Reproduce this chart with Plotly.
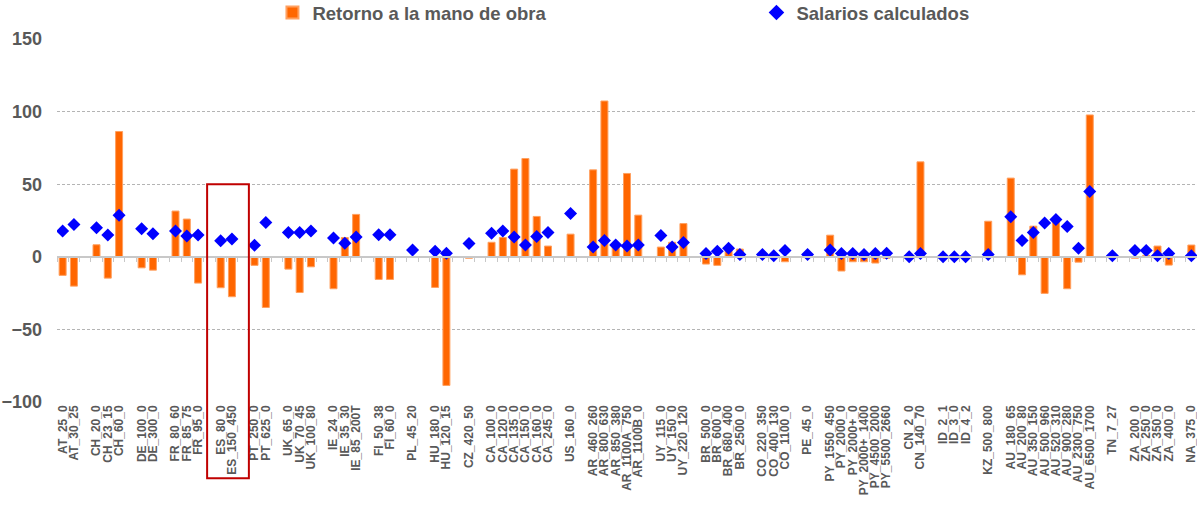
import plotly.graph_objects as go

# categories, "" marks an empty slot between country groups
categories = [
    "AT_25_0", "AT_30_25", "",
    "CH_20_0", "CH_23_15", "CH_60_0", "",
    "DE_100_0", "DE_300_0", "",
    "FR_80_60", "FR_85_75", "FR_95_0", "",
    "ES_80_0", "ES_150_450", "",
    "PT_250_0", "PT_625_0", "",
    "UK_65_0", "UK_70_45", "UK_100_80", "",
    "IE_24_0", "IE_35_30", "IE_85_200T", "",
    "FI_50_38", "FI_60_0", "",
    "PL_45_20", "",
    "HU_180_0", "HU_120_15", "",
    "CZ_420_50", "",
    "CA_100_0", "CA_120_0", "CA_135_0", "CA_150_0", "CA_160_0", "CA_245_0", "",
    "US_160_0", "",
    "AR_460_260", "AR_800_630", "AR_850_380", "AR_1100A_750", "AR_1100B_0", "",
    "UY_115_0", "UY_150_0", "UY_220_120", "",
    "BR_500_0", "BR_600_0", "BR_680_400", "BR_2500_0", "",
    "CO_220_350", "CO_400_130", "CO_1100_0", "",
    "PE_45_0", "",
    "PY_1550_450", "PY_2000_0", "PY_2000+_0", "PY_2000+_1400", "PY_4500_2000", "PY_5500_2660", "",
    "CN_2_0", "CN_140_70", "",
    "ID_2_1", "ID_3_0", "ID_4_2", "",
    "KZ_500_800", "",
    "AU_180_65", "AU_200_80", "AU_350_150", "AU_500_960", "AU_520_310", "AU_900_280",
    "AU_2300_750", "AU_6500_1700", "",
    "TN_7_27", "",
    "ZA_200_0", "ZA_250_0", "ZA_350_0", "ZA_400_0", "",
    "NA_375_0",
]

retorno = [
    -12.8, -20.2, None,
    8.3, -14.7, 86.3, None,
    -7.6, -9.2, None,
    31.5, 26.0, -18.1, None,
    -21.3, -27.5, None,
    -5.9, -34.9, None,
    -8.5, -24.6, -6.9, None,
    -22.0, 13.3, 29.2, None,
    -15.6, -15.6, None,
    -0.5, None,
    -21.1, -88.6, None,
    -1.0, None,
    10.0, 13.3, 60.4, 67.7, 27.8, 7.4, None,
    15.6, None,
    59.9, 107.3, 9.0, 57.4, 28.7, None,
    6.7, 10.0, 22.9, None,
    -5.0, -5.9, 4.6, 5.3, None,
    0.3, 0.3, -3.4, None,
    0.2, None,
    14.9, -9.8, -3.4, -3.4, -4.3, -1.0, None,
    0.0, 65.4, None,
    0.0, 0.0, 0.0, None,
    24.5, None,
    54.2, -12.4, 21.1, -25.2, 24.7, -22.0, -3.7, 97.7, None,
    0.0, None,
    -1.0, 1.0, 7.4, -5.7, None,
    8.1,
]

salarios = [
    17.7, 22.3, None,
    20.0, 15.0, 28.7, None,
    19.3, 15.9, None,
    17.7, 14.3, 15.0, None,
    11.0, 12.2, None,
    8.0, 23.6, None,
    16.8, 16.8, 17.7, None,
    12.9, 9.4, 13.6, None,
    15.2, 15.2, None,
    4.6, None,
    3.9, 2.5, None,
    9.2, None,
    16.3, 17.7, 13.6, 8.1, 14.0, 16.8, None,
    29.8, None,
    6.7, 11.3, 8.1, 7.4, 8.1, None,
    14.7, 6.7, 9.9, None,
    2.3, 3.9, 5.9, 1.6, None,
    1.6, 0.7, 4.4, None,
    1.6, None,
    4.6, 2.3, 2.3, 1.6, 2.3, 2.5, None,
    0.0, 2.3, None,
    0.0, 0.0, 0.0, None,
    1.6, None,
    27.5, 11.3, 16.8, 23.2, 25.7, 20.9, 5.9, 45.0, None,
    0.7, None,
    4.4, 4.4, 0.7, 2.3, None,
    0.7,
]

y_ticks = [-100, -50, 0, 50, 100, 150]

GRAY = "#595959"
FONT = "Liberation Sans, Arial, sans-serif"

pos = list(range(len(categories)))
n = len(categories)

fig = go.Figure()

fig.add_trace(go.Bar(
    x=pos, y=retorno, name="Retorno a la mano de obra",
    marker=dict(color="#FF6600", line=dict(color="#FFA060", width=1)),
    width=0.62,
))

fig.add_trace(go.Scatter(
    x=pos, y=salarios, name="Salarios calculados", mode="markers",
    marker=dict(symbol="diamond", color="#0000FF", size=10),
))

# dummy trace so the zero-line axis with boundary ticks gets drawn
fig.add_trace(go.Scatter(x=[0], y=[None], xaxis="x2", showlegend=False, hoverinfo="skip"))

label_pos = [i for i, c in enumerate(categories) if c]
label_txt = [c for c in categories if c]

fig.update_layout(
    width=1197, height=505,
    margin=dict(l=57, r=0, t=39, b=103, autoexpand=False),
    paper_bgcolor="white", plot_bgcolor="white",
    font=dict(family=FONT, color=GRAY),
    bargap=0.38,
    showlegend=True,
    legend=dict(
        orientation="h", x=0.189, y=1.124, xanchor="left", yanchor="top",
        entrywidth=439, font=dict(size=18.5, weight="bold", color=GRAY),
        bgcolor="rgba(0,0,0,0)", itemsizing="constant",
    ),
    xaxis=dict(
        range=[-0.5, n - 0.5], tickvals=label_pos, ticktext=label_txt,
        tickangle=-90, showgrid=False, zeroline=False, showline=False, ticks="",
        tickfont=dict(size=12, weight="bold", color=GRAY),
        ticklabeloverflow="allow",
    ),
    xaxis2=dict(
        overlaying="x", anchor="free", position=0.4, range=[-0.5, n - 0.5],
        tickvals=[i - 0.5 for i in range(n + 1)], ticks="outside", ticklen=4,
        tickcolor="#C8C8C8", tickwidth=1, showticklabels=False, showgrid=False,
        zeroline=False, showline=True, linecolor="#C8C8C8", linewidth=2,
        side="bottom",
    ),
    yaxis=dict(
        range=[-100, 150], tickvals=y_ticks, showgrid=True, gridcolor="#B4B4B4",
        griddash="3px,2px", gridwidth=1, zeroline=False, showline=False,
        tickfont=dict(size=18, weight="bold", color=GRAY), ticklabelstandoff=14,
    ),
)

# red box around the Spanish cases
es_first = categories.index("ES_80_0")
es_last = categories.index("ES_150_450")
fig.add_shape(
    type="rect", xref="x", yref="paper",
    x0=es_first - 1.2, x1=es_last + 1.5, y0=-0.21, y1=0.6,
    line=dict(color="#C00000", width=2), fillcolor="rgba(0,0,0,0)",
)

# drop the default body margin so the figure fills the window
fig.write_html("out.html", config={"displayModeBar": False},
               post_script="document.body.style.margin='0';")
